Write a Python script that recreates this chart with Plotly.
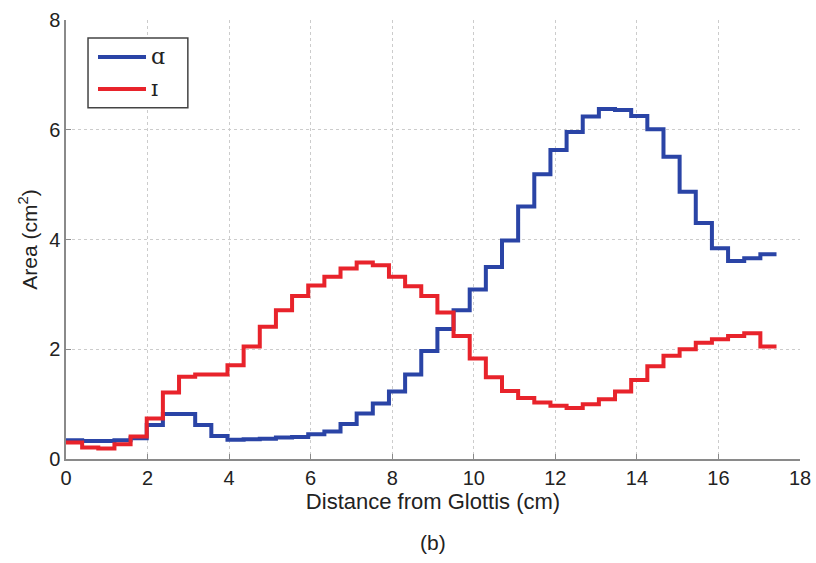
import plotly.graph_objects as go

# section boundaries along the tract (cm)
distance = [0.000, 0.396, 0.792, 1.188, 1.584, 1.980, 2.376, 2.772, 3.168, 3.564,
            3.960, 4.356, 4.752, 5.148, 5.544, 5.940, 6.336, 6.732, 7.128, 7.524,
            7.920, 8.316, 8.712, 9.108, 9.504, 9.900, 10.296, 10.692, 11.088, 11.484,
            11.880, 12.276, 12.672, 13.068, 13.464, 13.860, 14.256, 14.652, 15.048, 15.444,
            15.840, 16.236, 16.632, 17.028, 17.424]

# area of each section (cm^2)
area_a = [0.34, 0.33, 0.33, 0.34, 0.38, 0.62, 0.82, 0.82, 0.62, 0.42,
          0.35, 0.36, 0.37, 0.39, 0.40, 0.45, 0.50, 0.64, 0.83, 1.01,
          1.23, 1.54, 1.97, 2.37, 2.71, 3.09, 3.50, 3.98, 4.60, 5.19,
          5.63, 5.96, 6.24, 6.38, 6.36, 6.25, 6.01, 5.51, 4.87, 4.30,
          3.84, 3.61, 3.66, 3.73]

area_i = [0.30, 0.21, 0.19, 0.27, 0.41, 0.74, 1.21, 1.50, 1.54, 1.54,
          1.71, 2.05, 2.41, 2.71, 2.97, 3.16, 3.32, 3.47, 3.58, 3.53,
          3.32, 3.15, 2.97, 2.67, 2.24, 1.83, 1.49, 1.24, 1.11, 1.03,
          0.97, 0.93, 1.00, 1.09, 1.23, 1.44, 1.69, 1.88, 2.00, 2.12,
          2.18, 2.24, 2.29, 2.05]

series_names = ["ɑ", "ɪ"]
series_colors = ["#2a44a6", "#e8232b"]
x_ticks = [0, 2, 4, 6, 8, 10, 12, 14, 16, 18]
y_ticks = [0, 2, 4, 6, 8]

fig = go.Figure()
for name, vals, col in zip(series_names, [area_a, area_i], series_colors):
    fig.add_trace(go.Scatter(x=distance, y=vals + vals[-1:], mode="lines",
                             line=dict(shape="hv", color=col, width=4),
                             name=name, showlegend=False))

axis_common = dict(showline=True, linecolor="#8a8a8a", linewidth=1.5,
                   ticks="inside", ticklen=5, tickcolor="#8a8a8a",
                   showgrid=True, gridcolor="#cccccc", griddash="dot", gridwidth=1,
                   zeroline=False, mirror=False, automargin=False,
                   tickfont=dict(size=20, color="#222"))

fig.update_xaxes(range=[0, 18], tickvals=x_ticks,
                 title=dict(text="Distance from Glottis (cm)", font=dict(size=22, color="#222"),
                            standoff=0),
                 **axis_common)
fig.update_yaxes(range=[0, 8], tickvals=y_ticks,
                 title=dict(text="Area (cm<sup>2</sup>)", font=dict(size=21, color="#222"),
                            standoff=6),
                 **axis_common)

fig.add_annotation(text="(b)", xref="paper", yref="paper", x=0.5, y=-0.19,
                   xanchor="center", yanchor="middle", showarrow=False,
                   font=dict(size=21, color="#222"))

# legend drawn as a framed key in the upper-left corner
fig.add_shape(type="rect", xref="paper", yref="paper", x0=0.030, x1=0.166, y0=0.800, y1=0.959,
              line=dict(color="#444", width=1.5), fillcolor="white", layer="above")
legend_rows = [0.916, 0.843]
for name, col, yy in zip(series_names, series_colors, legend_rows):
    fig.add_shape(type="line", xref="paper", yref="paper", x0=0.0436, x1=0.109, y0=yy, y1=yy,
                  line=dict(color=col, width=4), layer="above")
    fig.add_annotation(text=name, xref="paper", yref="paper", x=0.113, y=yy,
                       xanchor="left", yanchor="middle", showarrow=False,
                       font=dict(family="DejaVu Serif, Liberation Serif, serif", size=22, color="#222"))

fig.update_layout(
    width=816, height=563,
    margin=dict(l=66, r=16, t=20, b=104),
    paper_bgcolor="white", plot_bgcolor="white",
    font=dict(family="Liberation Sans, Arial, sans-serif"),
    showlegend=False,
)

fig.write_html("out.html", config={"displayModeBar": False},
               post_script="document.body.style.margin='0';document.body.style.overflow='hidden';")
